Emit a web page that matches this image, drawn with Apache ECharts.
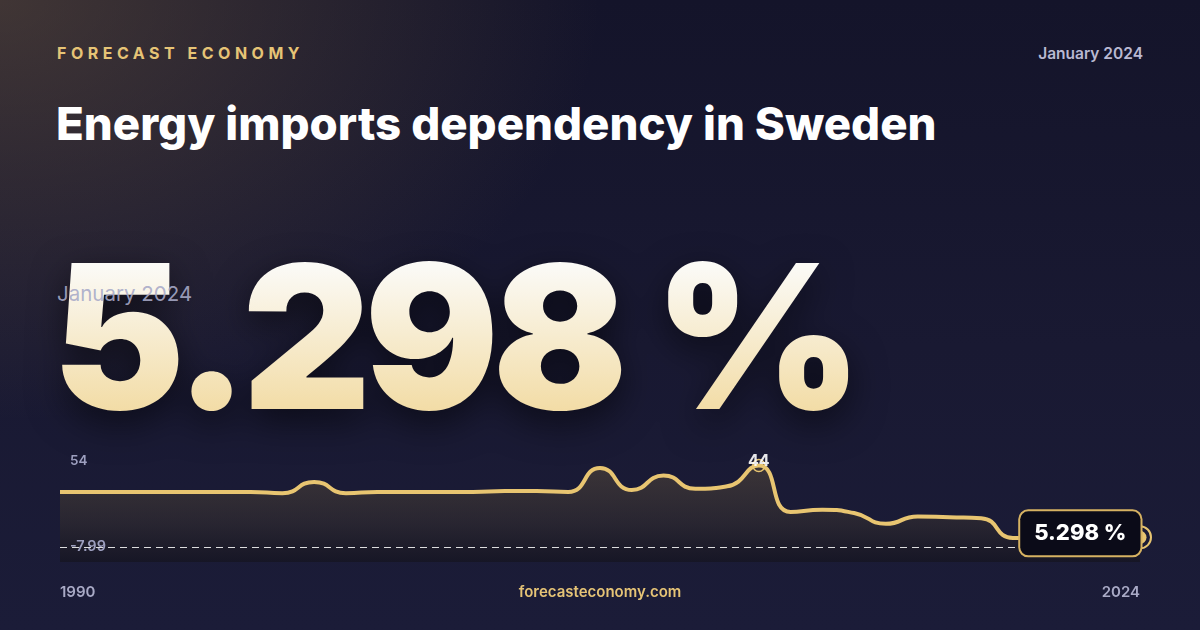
<!DOCTYPE html>
<html>
<head>
<meta charset="utf-8">
<script src="https://cdn.jsdelivr.net/npm/echarts@6/dist/echarts.min.js"></script>
<style>
html, body { margin:0; padding:0; }
body {
  width:1200px; height:630px; overflow:hidden; position:relative;
  font-family: Inter, "Noto Sans", sans-serif;
  background:
    radial-gradient(ellipse 600px 420px at 0% 0%, rgba(118,94,66,0.45), rgba(118,94,66,0) 100%),
    linear-gradient(180deg, #14142a 0%, #191932 55%, #1b1c38 100%);
}
#brand { position:absolute; left:57px; top:45px; font-size:16px; line-height:1; font-weight:700; letter-spacing:4.5px; color:#e6c476; }
#date { position:absolute; right:57px; top:46px; font-size:15.5px; line-height:1; font-weight:600; color:#b9b9d2; }
#title { position:absolute; left:56px; top:101px; font-size:45.6px; line-height:1; font-weight:800; color:#fff; }
#big {
  position:absolute; left:52px; top:236px; font-size:200px; line-height:1; font-weight:900; letter-spacing:-7px;
  background:linear-gradient(180deg, #fbfaf6 15%, #f1d798 100%);
  -webkit-background-clip:text; background-clip:text; color:transparent;
  filter:drop-shadow(0 12px 18px rgba(0,0,0,0.55));
}
#sub { position:absolute; left:57px; top:284px; font-size:20.5px; line-height:1; color:rgba(168,170,200,0.9); }
#chart { position:absolute; left:0; top:0; width:1200px; height:630px; }
</style>
</head>
<body>
<div id="brand">FORECAST ECONOMY</div>
<div id="date">January 2024</div>
<div id="title">Energy imports dependency in Sweden</div>
<div id="big">5.298 %</div>
<div id="sub">January 2024</div>
<div id="chart"></div>
<script>
var years = ['1990','1991','1992','1993','1994','1995','1996','1997','1998','1999',
  '2000','2001','2002','2003','2004','2005','2006','2007','2008','2009',
  '2010','2011','2012','2013','2014','2015','2016','2017','2018','2019',
  '2020','2021','2022','2023','2024'];
var imports = [29.8, 29.8, 29.8, 29.8, 29.8, 29.8, 29.8, 29.1, 35.2, 29.1,
  29.8, 29.8, 29.8, 29.8, 30.3, 30.3, 29.8, 42.7, 30.8, 38.6,
  31.5, 32.8, 44, 19.0, 20.2, 18.4, 12.6, 16.6, 16.1, 15.6,
  5.0, 4.9, 5.1, 5.2, 5.298];
var axisMin = -7.99;
var axisMax = 54;
var unit = ' %';

var gold = '#e8c571';
var myChart = echarts.init(document.getElementById('chart'));
var last = imports.length - 1;

var option = {
  animation: false,
  grid: { left: 60, right: 60, top: 447, bottom: 68 },
  xAxis: {
    type: 'category',
    data: years,
    boundaryGap: false,
    axisLine: { show: false },
    axisTick: { show: false },
    splitLine: { show: false },
    axisLabel: {
      interval: function (i) { return i === 0 || i === last; },
      margin: 23,
      color: '#a9aac6',
      fontSize: 15,
      fontWeight: 600,
      fontFamily: 'Inter',
      alignMinLabel: 'left',
      alignMaxLabel: 'right'
    }
  },
  yAxis: { type: 'value', min: axisMin, max: axisMax, show: false, splitLine: { show: false } },
  graphic: [
    { type: 'text', z: 100, left: 70, top: 454, style: { text: String(axisMax), fill: '#9d9fbf', font: '600 13.5px Inter' } },
    { type: 'text', z: 100, left: 70, top: 539, style: { text: String(axisMin), fill: '#9d9fbf', font: '600 14.5px Inter' } },
    { type: 'text', z: 100, x: 600, y: 592, style: { text: 'forecasteconomy.com', fill: '#e6c476', font: '600 15px Inter', align: 'center', verticalAlign: 'middle' } }
  ],
  series: [{
    type: 'line',
    data: imports,
    smooth: 0.55,
    symbol: 'none',
    lineStyle: { color: gold, width: 4 },
    areaStyle: {
      origin: 'start',
      color: new echarts.graphic.LinearGradient(0, 0, 0, 1, [
        { offset: 0, color: '#4b4139' },
        { offset: 0.6, color: '#2f2a2f' },
        { offset: 1, color: '#15141f' }
      ])
    },
    markLine: {
      silent: true,
      symbol: 'none',
      label: { show: false },
      lineStyle: { color: 'rgba(255,255,255,0.85)', type: [7, 5], width: 1.2 },
      data: [{ yAxis: 0 }]
    },
    markPoint: {
      silent: true,
      data: [
        {
          type: 'max',
          symbol: 'circle',
          symbolSize: 12,
          itemStyle: { color: 'rgba(0,0,0,0)', borderColor: gold, borderWidth: 1.5 },
          label: { show: true, position: 'inside', offset: [0, -4], formatter: '{c}', color: 'rgba(255,255,255,0.9)', fontSize: 16, fontWeight: 700, fontFamily: 'Inter' }
        },
        {
          coord: [years[last], imports[last]],
          symbol: 'circle',
          symbolSize: 13,
          itemStyle: { color: gold },
          label: {
            show: true,
            position: 'left',
            offset: [12, -4],
            formatter: function (p) { return p.value + unit; },
            backgroundColor: '#0b0b18',
            borderColor: '#d6b262',
            borderWidth: 2,
            borderRadius: 8,
            padding: [11, 14, 11, 14],
            color: '#ffffff',
            fontSize: 22,
            fontWeight: 800,
            fontFamily: 'Inter'
          },
          value: imports[last]
        },
        {
          coord: [years[last], imports[last]],
          symbol: 'circle',
          symbolSize: 22,
          itemStyle: { color: 'rgba(0,0,0,0)', borderColor: gold, borderWidth: 2 },
          label: { show: false }
        }
      ]
    }
  }]
};
myChart.setOption(option);
</script>
</body>
</html>
